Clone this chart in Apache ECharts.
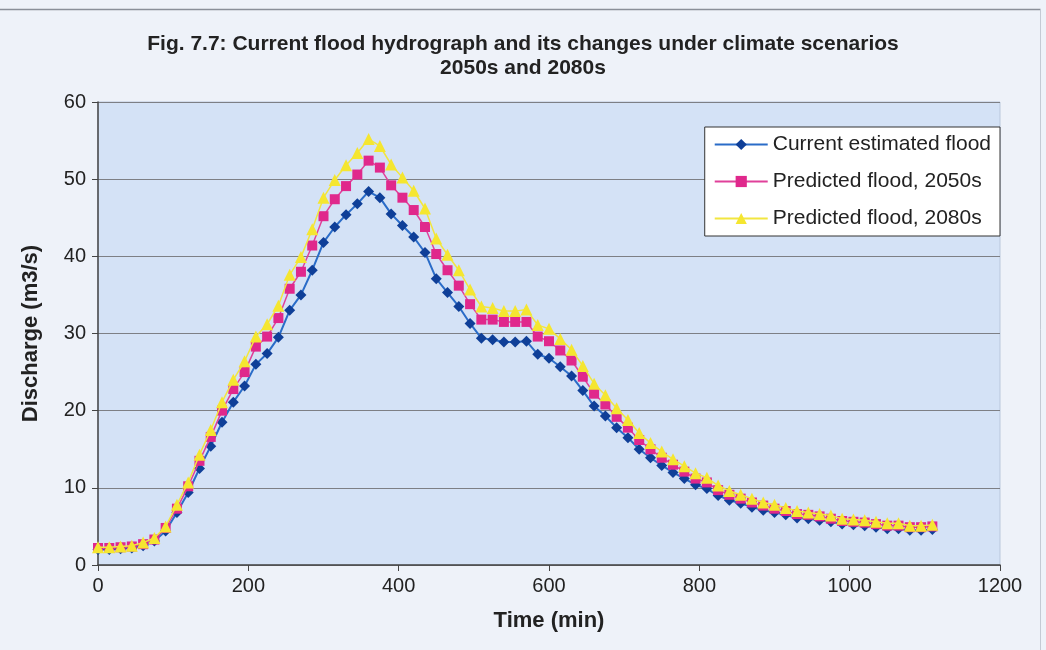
<!DOCTYPE html>
<html>
<head>
<meta charset="utf-8">
<title>Flood hydrograph</title>
<script src="https://cdn.jsdelivr.net/npm/echarts@6/dist/echarts.min.js"></script>
<style>
  html, body { margin: 0; padding: 0; background: #eef2f9; }
  #chart { width: 1046px; height: 650px; }
</style>
</head>
<body>
<div id="chart"></div>
<script>
// Time steps of the hydrograph (minutes)
const timeMin = [
  0, 15, 30, 45, 60, 75, 90, 105, 120, 135, 150, 165, 180, 195, 210, 225, 240, 255, 270, 285,
  300, 315, 330, 345, 360, 375, 390, 405, 420, 435, 450, 465, 480, 495, 510, 525, 540, 555, 570, 585,
  600, 615, 630, 645, 660, 675, 690, 705, 720, 735, 750, 765, 780, 795, 810, 825, 840, 855, 870, 885,
  900, 915, 930, 945, 960, 975, 990, 1005, 1020, 1035, 1050, 1065, 1080, 1095, 1110
];

// Discharge (m3/s), current estimated flood
const currentFlood = [
  2.0, 2.0, 2.1, 2.2, 2.5, 3.1, 4.4, 6.8, 9.4, 12.5, 15.4, 18.5, 21.1, 23.2, 26.0, 27.4, 29.5, 33.0, 35.0, 38.2,
  41.8, 43.8, 45.4, 46.8, 48.4, 47.6, 45.5, 44.0, 42.5, 40.5, 37.1, 35.3, 33.5, 31.3, 29.4, 29.2, 28.9, 28.9, 29.0, 27.3,
  26.8, 25.7, 24.5, 22.6, 20.6, 19.3, 17.8, 16.5, 15.0, 13.9, 12.9, 12.0, 11.2, 10.4, 9.9, 9.0, 8.4, 8.0, 7.5, 7.1,
  6.8, 6.5, 6.1, 6.0, 5.8, 5.6, 5.3, 5.2, 5.1, 4.9, 4.7, 4.7, 4.5, 4.5, 4.6
];

// Discharge (m3/s), predicted flood for the 2050s
const flood2050s = [
  2.2, 2.2, 2.3, 2.4, 2.7, 3.3, 4.8, 7.3, 10.2, 13.5, 16.6, 20.0, 22.8, 25.0, 28.3, 29.6, 32.0, 35.8, 38.0, 41.4,
  45.2, 47.4, 49.1, 50.6, 52.4, 51.5, 49.2, 47.6, 46.0, 43.8, 40.3, 38.2, 36.2, 33.8, 31.8, 31.8, 31.5, 31.5, 31.5, 29.6,
  29.0, 27.8, 26.5, 24.4, 22.2, 20.8, 19.2, 17.8, 16.2, 15.0, 13.9, 13.0, 12.1, 11.2, 10.7, 9.7, 9.1, 8.6, 8.1, 7.7,
  7.3, 7.0, 6.6, 6.5, 6.3, 6.0, 5.7, 5.6, 5.5, 5.3, 5.1, 5.1, 4.9, 4.9, 5.0
];

// Discharge (m3/s), predicted flood for the 2080s
const flood2080s = [
  2.3, 2.3, 2.4, 2.5, 2.9, 3.5, 5.0, 7.8, 10.7, 14.3, 17.5, 21.1, 24.0, 26.4, 29.6, 31.2, 33.6, 37.6, 39.9, 43.5,
  47.6, 49.9, 51.8, 53.4, 55.2, 54.3, 51.9, 50.2, 48.5, 46.2, 42.3, 40.2, 38.2, 35.7, 33.5, 33.3, 32.9, 32.9, 33.1, 31.1,
  30.6, 29.3, 27.9, 25.8, 23.5, 22.0, 20.3, 18.8, 17.1, 15.8, 14.7, 13.7, 12.8, 11.9, 11.3, 10.3, 9.6, 9.1, 8.6, 8.1,
  7.8, 7.4, 7.0, 6.8, 6.6, 6.4, 6.0, 5.9, 5.8, 5.6, 5.4, 5.4, 5.1, 5.1, 5.2
];

const seriesNames = ['Current estimated flood', 'Predicted flood, 2050s', 'Predicted flood, 2080s'];
const titleLines = ['Fig. 7.7: Current flood hydrograph and its changes under climate scenarios', '2050s and 2080s'];

const pairs = (ys) => timeMin.map((t, i) => [t, ys[i]]);

const chart = echarts.init(document.getElementById('chart'), null, { renderer: 'canvas' });
const baseFont = 'Liberation Sans, Arial, sans-serif';

chart.setOption({
  backgroundColor: '#eef2f9',
  animation: false,
  title: {
    text: titleLines.join('\n'),
    left: 'center',
    top: 27,
    textStyle: {
      fontFamily: baseFont,
      fontWeight: 'bold',
      fontSize: 21,
      lineHeight: 24,
      color: '#222'
    }
  },
  graphic: [
    { type: 'line', shape: { x1: 0, y1: 9.5, x2: 1040.5, y2: 9.5 }, style: { stroke: '#8a8f99', lineWidth: 1.5 }, silent: true },
    { type: 'line', shape: { x1: 1040.5, y1: 9.5, x2: 1040.5, y2: 650 }, style: { stroke: '#c4cad4', lineWidth: 1 }, silent: true }
  ],
  legend: {
    orient: 'vertical',
    right: 46,
    top: 127,
    backgroundColor: '#ffffff',
    borderColor: '#333',
    borderWidth: 1,
    borderRadius: 0,
    padding: [7, 9, 7, 9],
    itemWidth: 53,
    itemHeight: 14,
    itemGap: 16,
    textStyle: { fontFamily: baseFont, fontSize: 21, color: '#222', lineHeight: 21 },
    data: seriesNames
  },
  grid: {
    left: 98,
    right: 46,
    top: 102,
    bottom: 85,
    show: true,
    backgroundColor: '#d4e2f6',
    borderColor: '#b9c7dc',
    borderWidth: 1
  },
  xAxis: {
    type: 'value',
    min: 0,
    max: 1200,
    interval: 200,
    name: 'Time (min)',
    nameLocation: 'middle',
    nameGap: 45,
    nameTextStyle: { fontFamily: baseFont, fontWeight: 'bold', fontSize: 22, color: '#222' },
    axisLine: { show: true, onZero: false, lineStyle: { color: '#444', width: 1.5 } },
    axisTick: { show: true, inside: false, length: 6, lineStyle: { color: '#444' } },
    axisLabel: { margin: 11, fontFamily: baseFont, fontSize: 20, color: '#222', formatter: (v) => String(v) },
    splitLine: { show: false }
  },
  yAxis: {
    type: 'value',
    min: 0,
    max: 60,
    interval: 10,
    name: 'Discharge (m3/s)',
    nameLocation: 'middle',
    nameGap: 56,
    nameRotate: 90,
    nameTextStyle: { fontFamily: baseFont, fontWeight: 'bold', fontSize: 22, color: '#222' },
    axisLine: { show: true, lineStyle: { color: '#444', width: 1.5 } },
    axisTick: { show: true, inside: false, length: 6, lineStyle: { color: '#444' } },
    axisLabel: { margin: 12, fontFamily: baseFont, fontSize: 20, color: '#222' },
    splitLine: { show: true, lineStyle: { color: '#7d7f85', width: 1.2 } }
  },
  series: [
    {
      name: seriesNames[0],
      type: 'line',
      data: pairs(currentFlood),
      symbol: 'diamond',
      symbolSize: 11,
      lineStyle: { color: '#2a6cc8', width: 2 },
      itemStyle: { color: '#0f3f98', borderWidth: 0 },
      z: 2
    },
    {
      name: seriesNames[1],
      type: 'line',
      data: pairs(flood2050s),
      symbol: 'rect',
      symbolSize: 10,
      lineStyle: { color: '#e0409a', width: 1.5 },
      itemStyle: { color: '#e0288c', borderWidth: 0 },
      z: 3
    },
    {
      name: seriesNames[2],
      type: 'line',
      data: pairs(flood2080s),
      symbol: 'triangle',
      symbolSize: 12,
      lineStyle: { color: '#f2e640', width: 1.5 },
      itemStyle: { color: '#f5e630', borderWidth: 0 },
      z: 4
    }
  ]
});
</script>
</body>
</html>
